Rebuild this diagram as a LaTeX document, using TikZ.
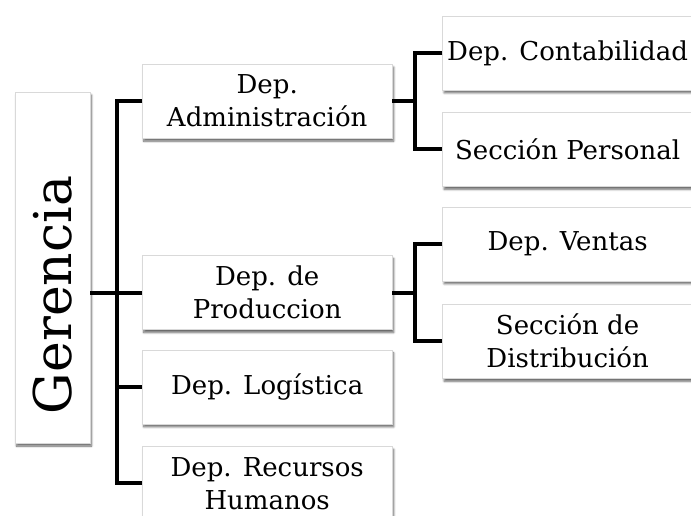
\documentclass[tikz,border=0pt]{standalone}
\usepackage{fontspec}
\setmainfont{DejaVu Serif}
\usepackage{tikz}
\usetikzlibrary{positioning}
\usetikzlibrary{shadows.blur}
\tikzstyle{block} = [draw=black!15, fill=white, rectangle, minimum height=74pt, minimum width=250pt, inner sep=0pt, align=center, font=\fontsize{26pt}{33pt}\selectfont, blur shadow={shadow xshift=1.5pt, shadow yshift=-3pt, shadow blur steps=6, shadow opacity=60}]
\tikzstyle{head} = [block, minimum width=75pt, minimum height=351pt, font=\fontsize{52pt}{60pt}\selectfont]
\tikzstyle{coord} = [coordinate]
\tikzstyle{link} = [line width=4pt, line join=miter]

\begin{document}
\begin{tikzpicture}
    \useasboundingbox (0,0) rectangle (691pt,-516pt);
    \node [head] at (52.5pt,-267.5pt) (gerencia) {\rotatebox{90}{Gerencia\hspace{55pt}}};
    \node [block, anchor=west] at (142pt,-292.5pt) (prod) {Dep. de\\Produccion};
    \node [block, above = 117pt of prod] (adm) {Dep.\\Administración};
    \node [block, below = 20pt of prod] (log) {Dep. Logística};
    \node [block, below = 22pt of log] (rrhh) {Dep. Recursos\\Humanos};
    \node [coord, left = 25pt of prod.west] (tr) {};
    \node [coord, right = 23pt of adm.east] (aj) {};
    \node [coord, right = 23pt of prod.east] (pj) {};
    \node [block, above right = 11pt and 27pt of aj] (contab) {Dep. Contabilidad};
    \node [block, below right = 11pt and 27pt of aj] (personal) {Sección Personal};
    \node [block, above right = 11.5pt and 27pt of pj] (ventas) {Dep. Ventas};
    \node [block, below right = 11.5pt and 27pt of pj] (distrib) {Sección de\\Distribución};

    \draw [link] (adm.west) -| (tr) |- (rrhh.west);
    \draw [link] (gerencia.east |- prod.west) -- (prod.west);
    \draw [link] (tr |- log.west) -- (log.west);
    \draw [link] (adm.east) -- (aj);
    \draw [link] (contab.west) -| (aj) |- (personal.west);
    \draw [link] (prod.east) -- (pj);
    \draw [link] (ventas.west) -| (pj) |- (distrib.west);
\end{tikzpicture}
\end{document}
